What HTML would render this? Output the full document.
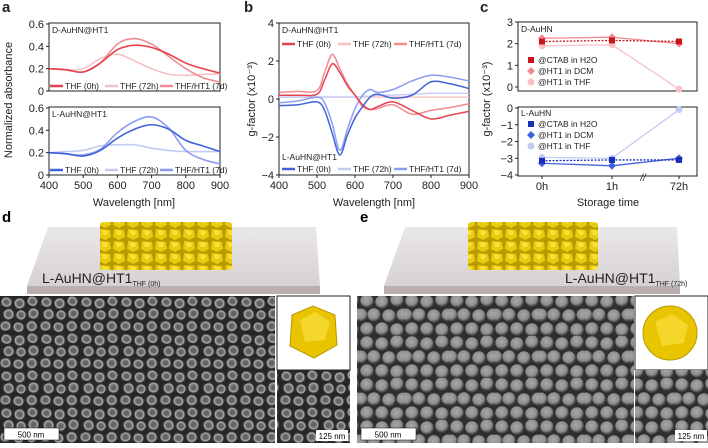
<!DOCTYPE html>
<html><head><meta charset="utf-8"><style>
body{margin:0;background:#fff;font-family:"Liberation Sans",Arial,sans-serif}
svg text{font-family:"Liberation Sans",Arial,sans-serif}
</style></head><body>
<svg id="fig" width="708" height="443" viewBox="0 0 708 443" xmlns="http://www.w3.org/2000/svg">
<defs>
<radialGradient id="gd" cx="50%" cy="50%" r="50%"><stop offset="0" stop-color="#5a5a5a"/><stop offset="0.5" stop-color="#6e6e6e"/><stop offset="0.8" stop-color="#b0b0b0"/><stop offset="1" stop-color="#333"/></radialGradient>
<pattern id="semd" width="40" height="37" patternUnits="userSpaceOnUse"><rect width="40" height="37" fill="#262626"/>
<rect x="1" y="1" width="11" height="10" rx="2" fill="url(#gd)" transform="rotate(15 6 6)"/>
<rect x="14" y="2" width="11" height="11" rx="2" fill="url(#gd)" transform="rotate(-10 19 7)"/>
<rect x="27" y="0" width="11" height="10" rx="2" fill="url(#gd)" transform="rotate(30 32 5)"/>
<rect x="3" y="13" width="11" height="11" rx="2" fill="url(#gd)" transform="rotate(-25 8 18)"/>
<rect x="16" y="14" width="10" height="10" rx="2" fill="url(#gd)" transform="rotate(40 21 19)"/>
<rect x="28" y="12" width="11" height="11" rx="2" fill="url(#gd)" transform="rotate(5 33 17)"/>
<rect x="0" y="25" width="11" height="10" rx="2" fill="url(#gd)" transform="rotate(-5 5 30)"/>
<rect x="13" y="26" width="11" height="10" rx="2" fill="url(#gd)" transform="rotate(20 18 31)"/>
<rect x="26" y="25" width="11" height="11" rx="2" fill="url(#gd)" transform="rotate(-35 31 30)"/>
</pattern>
<radialGradient id="ge" cx="45%" cy="40%" r="55%"><stop offset="0" stop-color="#a8a8a8"/><stop offset="0.7" stop-color="#8e8e8e"/><stop offset="1" stop-color="#444"/></radialGradient>
<pattern id="seme" width="45" height="42" patternUnits="userSpaceOnUse"><rect width="45" height="42" fill="#2e2e2e"/>
<circle cx="7" cy="7" r="6.8" fill="url(#ge)"/><circle cx="22" cy="8" r="6.8" fill="url(#ge)"/><circle cx="37" cy="6" r="6.8" fill="url(#ge)"/>
<circle cx="14" cy="21" r="6.8" fill="url(#ge)"/><circle cx="29" cy="22" r="6.8" fill="url(#ge)"/><circle cx="43" cy="21" r="6.5" fill="url(#ge)"/><circle cx="1" cy="21" r="6.5" fill="url(#ge)"/>
<circle cx="7" cy="35" r="6.8" fill="url(#ge)"/><circle cx="22" cy="35" r="6.8" fill="url(#ge)"/><circle cx="37" cy="36" r="6.8" fill="url(#ge)"/>
</pattern>
<pattern id="gold" width="14" height="12" patternUnits="userSpaceOnUse"><rect width="14" height="12" fill="#b89a00"/><polygon points="2,1 12,2 13,9 7,12 1,9" fill="#e8cc10"/><polygon points="4,2 10,3 9,7 5,7" fill="#fbe23a"/></pattern>
<linearGradient id="slab" x1="0" y1="0" x2="0" y2="1"><stop offset="0" stop-color="#ebe8ea"/><stop offset="1" stop-color="#d6d1d3"/></linearGradient>
</defs>
<g id="charts"></g>

<!-- panel d -->
<text x="2" y="222" font-size="15" font-weight="bold">d</text>
<g>
<polygon points="48,227 316,227 320,286 27,286" fill="url(#slab)"/>
<rect x="27" y="286" width="293" height="8" fill="#b9afaf"/>
<rect x="100" y="222" width="132" height="48" fill="url(#gold)" rx="3"/>
<text x="42" y="283" font-size="14" fill="#222">L-AuHN@HT1<tspan font-size="7" dy="3">THF (0h)</tspan></text>
</g>
<rect x="0" y="296" width="275" height="147" fill="url(#semd)"/>
<rect x="4" y="428" width="55" height="12" fill="#fff" stroke="#000" stroke-width="0.5"/>
<text x="31" y="437.5" font-size="8" text-anchor="middle">500 nm</text>
<rect x="277" y="296" width="73" height="74" fill="#fff" stroke="#222"/>
<polygon points="292,315 313,306 335,315 337,345 314,358 290,346" fill="#e7c300" stroke="#b89a00"/>
<polygon points="300,320 315,312 330,322 325,340 305,342" fill="#f5d62a"/>
<rect x="277" y="370" width="73" height="73" fill="url(#semd)"/>
<rect x="316" y="430" width="32" height="11" fill="#fff"/><text x="332" y="439" font-size="8" text-anchor="middle">125 nm</text>

<!-- panel e -->
<text x="360" y="222" font-size="15" font-weight="bold">e</text>
<g>
<polygon points="405,227 677,227 680,286 384,286" fill="url(#slab)"/>
<rect x="384" y="286" width="296" height="8" fill="#b9afaf"/>
<rect x="468" y="222" width="130" height="48" fill="url(#gold)" rx="3"/>
<text x="565" y="283" font-size="14" fill="#222">L-AuHN@HT1<tspan font-size="7" dy="3">THF (72h)</tspan></text>
</g>
<rect x="357" y="296" width="277" height="147" fill="url(#seme)"/>
<rect x="361" y="428" width="55" height="12" fill="#fff" stroke="#000" stroke-width="0.5"/>
<text x="388" y="437.5" font-size="8" text-anchor="middle">500 nm</text>
<rect x="635" y="296" width="73" height="74" fill="#fff" stroke="#222"/>
<circle cx="670" cy="333" r="27" fill="#e8c500" stroke="#b89a00"/>
<polygon points="655,322 672,314 688,325 684,343 662,346" fill="#f5d62a"/>
<rect x="635" y="370" width="73" height="73" fill="url(#seme)"/>
<rect x="675" y="430" width="32" height="11" fill="#fff"/><text x="691" y="439" font-size="8" text-anchor="middle">125 nm</text>
</svg>
<script>
// ---- panel a data ----
const wlA = [400,450,500,550,600,650,700,750,800,850,900];
const aD0h = [0.2,0.19,0.17,0.25,0.37,0.41,0.39,0.33,0.25,0.2,0.16];
const aD72h = [0.2,0.19,0.2,0.29,0.33,0.27,0.2,0.15,0.14,0.15,0.15];
const aD7d = [0.2,0.19,0.17,0.25,0.42,0.47,0.42,0.31,0.2,0.12,0.08];
const aL0h = [0.2,0.19,0.17,0.22,0.33,0.41,0.45,0.41,0.31,0.26,0.21];
const aL72h = [0.2,0.21,0.22,0.26,0.27,0.27,0.24,0.22,0.21,0.21,0.21];
const aL7d = [0.2,0.19,0.18,0.23,0.38,0.48,0.52,0.42,0.22,0.14,0.1];
const aYTicks = [0,0.2,0.4,0.6];
const wlTicks = [400,500,600,700,800,900];
// ---- panel b data ----
const wlB = [400,450,500,520,540,560,580,600,620,640,660,700,750,800,850,900];
const bD0h = [0.2,0.2,0.25,1.0,1.85,1.4,0.7,0.2,-0.3,-0.55,-0.4,-0.15,-0.6,-1.05,-0.85,-0.65];
const bD72h = [0.1,0.1,0.1,0.1,0.1,0.1,0.1,0.1,0.1,0.1,0.1,0.1,0.1,0.1,0.1,0.1];
const bD7d = [0.35,0.4,0.45,1.4,2.35,1.6,0.8,0.2,-0.4,-0.55,-0.5,-0.3,-0.8,-0.6,-0.45,-0.25];
const bL0h = [-0.35,-0.3,-0.15,-0.6,-1.8,-2.95,-1.9,-1.0,-0.4,0.1,0.25,0.05,0.2,0.9,0.8,0.55];
const bL72h = [0.1,0.1,0.1,0.1,0.1,0.1,0.1,0.1,0.15,0.15,0.2,0.2,0.25,0.3,0.3,0.3];
const bL7d = [-0.2,-0.1,0.1,-0.2,-1.3,-2.7,-1.6,-0.5,0.2,0.5,0.35,0.5,0.95,1.25,1.15,0.95];
const bYTicks = [-4,-2,0,2,4];
// ---- panel c data ----
const cTimes = ["0h","1h","72h"];
const cDctab = [2.1,2.15,2.1];
const cDdcm = [2.25,2.3,2.0];
const cDthf = [1.9,1.95,-0.1];
const cLctab = [-3.15,-3.1,-3.1];
const cLdcm = [-3.3,-3.45,-3.0];
const cLthf = [-2.95,-3.0,-0.1];
const cTopTicks = [0,1,2,3];
const cBotTicks = [-4,-3,-2,-1,0];

const NS="http://www.w3.org/2000/svg";
const root=document.getElementById('charts');
function mk(tag,attrs,parent){const e=document.createElementNS(NS,tag);for(const k in attrs)e.setAttribute(k,attrs[k]);(parent||root).appendChild(e);return e;}
function txt(x,y,s,size,anchor,parent,extra){const t=mk('text',Object.assign({x:x,y:y,'font-size':size,'text-anchor':anchor||'start',fill:'#222'},extra||{}),parent);t.textContent=s;return t;}
function lin(d0,d1,r0,r1){return v=>r0+(v-d0)/(d1-d0)*(r1-r0);}
function smooth(pts){let d='M'+pts[0][0]+','+pts[0][1];for(let i=0;i<pts.length-1;i++){const p0=pts[Math.max(0,i-1)],p1=pts[i],p2=pts[i+1],p3=pts[Math.min(pts.length-1,i+2)];const c1=[p1[0]+(p2[0]-p0[0])/6,p1[1]+(p2[1]-p0[1])/6],c2=[p2[0]-(p3[0]-p1[0])/6,p2[1]-(p3[1]-p1[1])/6];d+=' C'+c1+' '+c2+' '+p2;}return d;}
const R0='#e4434f',R1='#f7c2c5',R2='#f08c91',B0='#4262dc',B1='#c3cbf4',B2='#8c9cf0';

function frame(x0,x1,y0,y1,name){const r=mk('rect',{x:x0,y:y0,width:x1-x0,height:y1-y0,fill:'none',stroke:'#222','stroke-width':1});}
function yTicks(ticks,sy,x0,name){ticks.forEach(v=>{mk('line',{x1:x0-3,x2:x0,y1:sy(v),y2:sy(v),stroke:'#222'});const t=txt(x0-5,sy(v)+4,String(v).replace('-','−'),11,'end');});}
function xTicks(ticks,sx,y,labels,name){ticks.forEach((v,i)=>{mk('line',{x1:sx(v),x2:sx(v),y1:y,y2:y+3,stroke:'#222'});const t=txt(sx(v),y+14,labels?labels[i]:String(v),11,'middle');});}
function curve(xs,ys,sx,sy,col,w,name){const p=mk('path',{d:smooth(xs.map((x,i)=>[sx(x),sy(ys[i])])),fill:'none',stroke:col,'stroke-width':w});}
function legend(items,x,y,gap){items.forEach((it,i)=>{const lx=x+i*gap;mk('line',{x1:lx,x2:lx+13,y1:y-3,y2:y-3,stroke:it[1],'stroke-width':2.5});const t=txt(lx+15,y,it[0],8.5,'start');});}

// panel a
txt(2,12,'a',15,'start',null,{'font-weight':'bold'});
const sxA=lin(400,900,49,220);
const syAt=lin(0,0.6,91,24), syAb=lin(0,0.6,175,108);
frame(49,220,23,91,'plot-a-top');frame(49,220,107,175,'plot-a-bottom');
yTicks(aYTicks,syAt,49,'y-tick-a');yTicks(aYTicks,syAb,49,'y-tick-a');
xTicks(wlTicks,sxA,175,null,'x-tick-a');
txt(134,206,'Wavelength [nm]',11,'middle');
txt(12,100,'Normalized absorbance',11,'middle',null,{transform:'rotate(-90 12 100)'});
txt(52,33,'D-AuHN@HT1',8.5);txt(52,117,'L-AuHN@HT1',8.5);
curve(wlA,aD72h,sxA,syAt,R1,1.6,'line-d-72h');curve(wlA,aD7d,sxA,syAt,R2,1.6,'line-d-7d');curve(wlA,aD0h,sxA,syAt,R0,1.6,'line-d-0h');
curve(wlA,aL72h,sxA,syAb,B1,1.6,'line-l-72h');curve(wlA,aL7d,sxA,syAb,B2,1.6,'line-l-7d');curve(wlA,aL0h,sxA,syAb,B0,1.6,'line-l-0h');
legend([['THF (0h)',R0],['THF (72h)',R1],['THF/HT1 (7d)',R2]],50,89,55);
legend([['THF (0h)',B0],['THF (72h)',B1],['THF/HT1 (7d)',B2]],50,173,55);

// panel b
txt(244,12,'b',15,'start',null,{'font-weight':'bold'});
const sxB=lin(400,900,279,469), syB=lin(-4,4,175,23);
frame(279,469,23,175,'plot-b');
yTicks(bYTicks,syB,279,'y-tick-b');xTicks(wlTicks,sxB,175,null,'x-tick-b');
txt(374,206,'Wavelength [nm]',11,'middle');
txt(255,99,'g-factor (x10⁻³)',11,'middle',null,{transform:'rotate(-90 255 99)'});
txt(282,33,'D-AuHN@HT1',8.5);txt(282,160,'L-AuHN@HT1',8.5);
curve(wlB,bD72h,sxB,syB,R1,1.4,'line-b-d-72h');curve(wlB,bL72h,sxB,syB,B1,1.4,'line-b-l-72h');
curve(wlB,bD7d,sxB,syB,R2,1.5,'line-b-d-7d');curve(wlB,bL7d,sxB,syB,B2,1.5,'line-b-l-7d');
curve(wlB,bD0h,sxB,syB,R0,1.5,'line-b-d-0h');curve(wlB,bL0h,sxB,syB,B0,1.5,'line-b-l-0h');
legend([['THF (0h)',R0],['THF (72h)',R1],['THF/HT1 (7d)',R2]],282,47,56);
legend([['THF (0h)',B0],['THF (72h)',B1],['THF/HT1 (7d)',B2]],282,172,56);

// panel c
txt(480,12,'c',15,'start',null,{'font-weight':'bold'});
const sxC=i=>[542,612,679][i];
const syCt=lin(0,3,87,22), syCb=lin(-4,0,175,108);
frame(518,697,22,91,'plot-c-top');frame(518,697,107,176,'plot-c-bottom');
yTicks(cTopTicks,syCt,518,'y-tick-c');yTicks(cBotTicks,syCb,518,'y-tick-c');
cTimes.forEach((s,i)=>{mk('line',{x1:sxC(i),x2:sxC(i),y1:176,y2:179,stroke:'#222'});const t=txt(sxC(i),190,s,11,'middle');});
txt(643,181,'//',10,'middle',null,{'font-style':'italic'});
txt(608,206,'Storage time',11,'middle');
txt(490,99,'g-factor (x10⁻³)',11,'middle',null,{transform:'rotate(-90 490 99)'});
txt(521,32,'D-AuHN',8.5);txt(521,116,'L-AuHN',8.5);
function series(vals,sy,col,shape,dash,name){const pts=vals.map((v,i)=>[sxC(i),sy(v)]);const l=mk('polyline',{points:pts.join(' '),fill:'none',stroke:col,'stroke-width':1.3,'stroke-dasharray':dash||'none'});
pts.forEach(p=>{let m;if(shape==='sq')m=mk('rect',{x:p[0]-3,y:p[1]-3,width:6,height:6,fill:col});else if(shape==='di')m=mk('polygon',{points:`${p[0]},${p[1]-4} ${p[0]+4},${p[1]} ${p[0]},${p[1]+4} ${p[0]-4},${p[1]}`,fill:col});else m=mk('circle',{cx:p[0],cy:p[1],r:3.5,fill:col});});}
series(cDthf,syCt,R1,'ci',null,'d-thf');series(cDdcm,syCt,R2,'di',null,'d-dcm');series(cDctab,syCt,'#c8161e','sq','2,1.5','d-ctab');
series(cLthf,syCb,B1,'ci',null,'l-thf');series(cLdcm,syCb,B0,'di',null,'l-dcm');series(cLctab,syCb,'#1a2fb5','sq','2,1.5','l-ctab');
function cleg(items,y){items.forEach((it,i)=>{const yy=y+i*11;if(it[2]==='sq')mk('rect',{x:528,y:yy-6,width:6,height:6,fill:it[1]});else if(it[2]==='di')mk('polygon',{points:`531,${yy-7} 535,${yy-3} 531,${yy+1} 527,${yy-3}`,fill:it[1]});else mk('circle',{cx:531,cy:yy-3,r:3.5,fill:it[1]});const t=txt(538,yy,it[0],8.5);});}
cleg([['@CTAB in H2O','#c8161e','sq'],['@HT1 in DCM',R2,'di'],['@HT1 in THF',R1,'ci']],63);
cleg([['@CTAB in H2O','#1a2fb5','sq'],['@HT1 in DCM',B0,'di'],['@HT1 in THF',B1,'ci']],127);
</script>
</body></html>
